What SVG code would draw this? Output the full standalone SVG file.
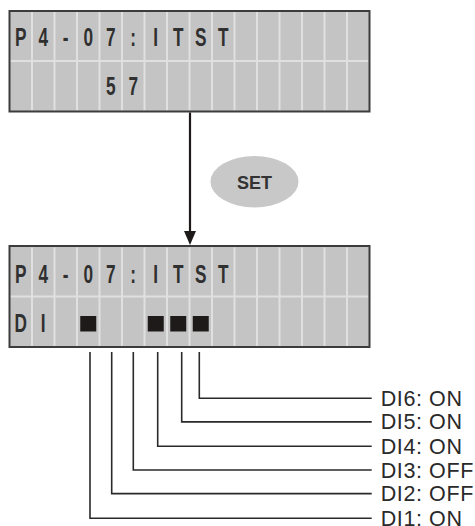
<svg xmlns="http://www.w3.org/2000/svg" width="475" height="526" viewBox="0 0 475 526">
<defs>
<style>
.bg{fill:#c4c4c4;stroke:none}
.frame{fill:none;stroke:#3c3c3c;stroke-width:2}
.grid{stroke:#e0e0e0;stroke-width:2;fill:none}
.lcd{font-family:"Liberation Sans",Arial,sans-serif;font-size:26.5px;font-weight:bold;fill:#303030;text-anchor:middle}
.blk{fill:#1e1a1a}
.wire{fill:none;stroke:#2a2a2a;stroke-width:1.6}
.lbl{font-family:"Liberation Sans",Arial,sans-serif;font-size:21.5px;letter-spacing:0.6px;fill:#2a2a2a}
.btn{fill:#c8c8c8}
.btntxt{font-family:"Liberation Sans",Arial,sans-serif;font-size:18px;font-weight:bold;fill:#333;text-anchor:middle}
</style>
<g id="grid16">
<path class="grid" d="M32 12V110.5M54.5 12V110.5M77 12V110.5M99.5 12V110.5M122 12V110.5M144.5 12V110.5M167 12V110.5M189.5 12V110.5M212 12V110.5M234.5 12V110.5M257 12V110.5M279.5 12V110.5M302 12V110.5M324.5 12V110.5M347 12V110.5M10.5 61H368.5"/>
</g>
</defs>

<g id="panel1">
<rect class="bg" x="9.5" y="11" width="360" height="100.5"/>
<use href="#grid16"/>
<rect class="frame" x="9.5" y="11" width="360" height="100.5"/>
<g transform="scale(0.65 1)">
<text class="lcd" x="31.92" y="46.5">P</text>
<text class="lcd" x="66.54" y="46.5">4</text>
<text class="lcd" x="101.15" y="46.5">-</text>
<text class="lcd" x="135.77" y="46.5">0</text>
<text class="lcd" x="170.38" y="46.5">7</text>
<text class="lcd" x="205" y="46.5">:</text>
<text class="lcd" x="239.62" y="46.5">I</text>
<text class="lcd" x="274.23" y="46.5">T</text>
<text class="lcd" x="308.85" y="46.5">S</text>
<text class="lcd" x="343.46" y="46.5">T</text>
<text class="lcd" x="170.38" y="95">5</text>
<text class="lcd" x="205" y="95">7</text>
</g>
</g>

<g id="set-button">
<ellipse class="btn" cx="254.5" cy="181.7" rx="44" ry="25.7"/>
<text class="btntxt" x="254.5" y="189.3">SET</text>
</g>

<g id="panel2">
<rect class="bg" x="9.5" y="246" width="360" height="101"/>
<use href="#grid16" transform="translate(0 235.5)"/>
<rect class="frame" x="9.5" y="246" width="360" height="101"/>
<g transform="scale(0.65 1)">
<text class="lcd" x="31.92" y="283.3">P</text>
<text class="lcd" x="66.54" y="283.3">4</text>
<text class="lcd" x="101.15" y="283.3">-</text>
<text class="lcd" x="135.77" y="283.3">0</text>
<text class="lcd" x="170.38" y="283.3">7</text>
<text class="lcd" x="205" y="283.3">:</text>
<text class="lcd" x="239.62" y="283.3">I</text>
<text class="lcd" x="274.23" y="283.3">T</text>
<text class="lcd" x="308.85" y="283.3">S</text>
<text class="lcd" x="343.46" y="283.3">T</text>
<text class="lcd" x="31.92" y="331.7">D</text>
<text class="lcd" x="66.54" y="331.7">I</text>
</g>
<rect class="blk" x="80.25" y="316" width="16" height="15.5"/>
<rect class="blk" x="147.75" y="316" width="16" height="15.5"/>
<rect class="blk" x="170.25" y="316" width="16" height="15.5"/>
<rect class="blk" x="192.75" y="316" width="16" height="15.5"/>
</g>

<g id="connectors">
<line x1="190" y1="112.5" x2="190" y2="233" stroke="#1e1a1a" stroke-width="2.2"/>
<polygon points="184,231 196,231 190,245" fill="#1e1a1a"/>
<path class="wire" d="M199.3 352V398.3H371.7"/>
<path class="wire" d="M181.7 352V421.9H371.7"/>
<path class="wire" d="M157.7 352V446.3H371.7"/>
<path class="wire" d="M133.3 352V470H371.7"/>
<path class="wire" d="M111.7 352V493.6H371.7"/>
<path class="wire" d="M90 352V518.3H371.7"/>
</g>

<g id="labels">
<text class="lbl" x="380.7" y="405.8">DI6: ON</text>
<text class="lbl" x="380.7" y="429.4">DI5: ON</text>
<text class="lbl" x="380.7" y="453.8">DI4: ON</text>
<text class="lbl" x="380.7" y="477.5">DI3: OFF</text>
<text class="lbl" x="380.7" y="501.1">DI2: OFF</text>
<text class="lbl" x="380.7" y="525.5">DI1: ON</text>
</g>
</svg>
